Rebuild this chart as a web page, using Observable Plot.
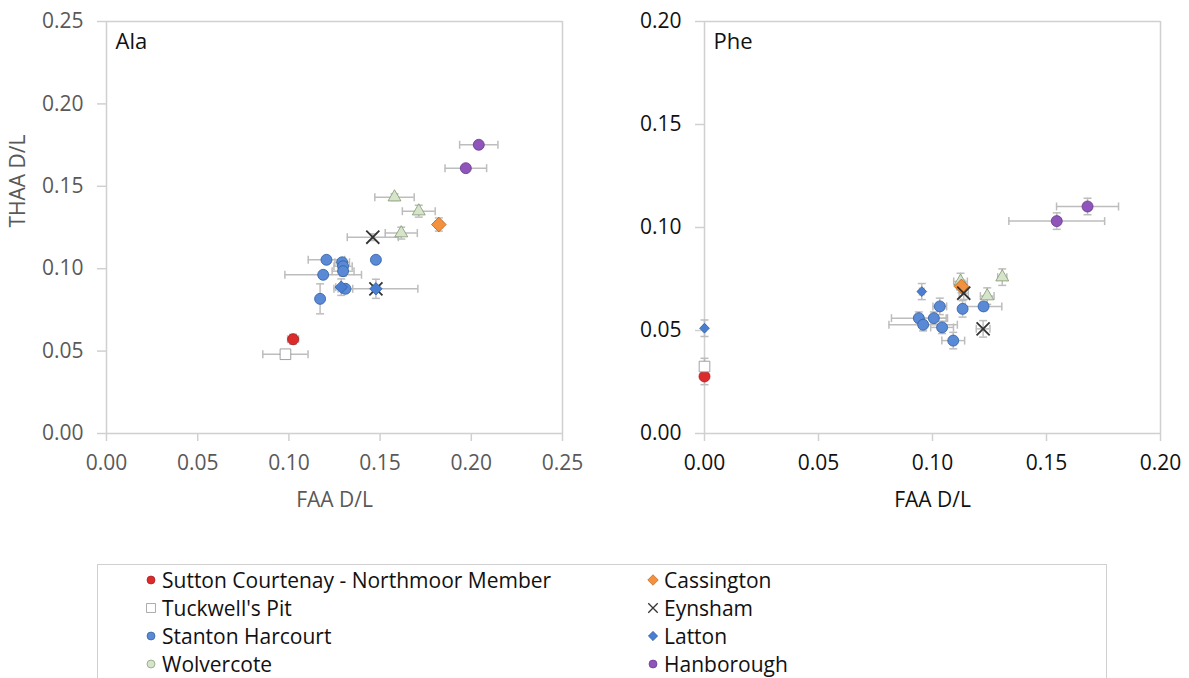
<!DOCTYPE html>
<html>
<head>
<meta charset="utf-8">
<script src="https://cdn.jsdelivr.net/npm/d3@7"></script>
<script src="https://cdn.jsdelivr.net/npm/@observablehq/plot@0.6"></script>
<style>
  body { margin: 0; background: #fff; font-family: "Open Sans", sans-serif; }
  #wrap { position: relative; width: 1189px; height: 678px; overflow: hidden; background: #fff; }
  #left { position: absolute; left: 0; top: 0; }
  #right { position: absolute; left: 600px; top: 0; }
  #legend { position: absolute; left: 97px; top: 564px; width: 1010px; height: 140px;
            border: 1.5px solid #d0d0d0; box-sizing: border-box; }
  .li { position: absolute; display: flex; align-items: center; font-size: 21px; color: #111;
        white-space: nowrap; height: 28px; }
  .li svg { margin-right: 4px; }
</style>
</head>
<body>
<div id="wrap">
  <div id="left"></div>
  <div id="right"></div>
  <div id="legend"></div>
</div>
<script>
// ---------- data ----------
const sites = ["Sutton Courtenay - Northmoor Member", "Tuckwell's Pit", "Stanton Harcourt", "Wolvercote",
               "Cassington", "Eynsham", "Latton", "Hanborough"];
const siteFill   = ["#dd2a2a", "#ffffff", "#5a8ad6", "#d6e4cc", "#f4913e", "#333333", "#4a7ed0", "#8f55bb"];
const siteStroke = ["#a51c1f", "#8a8a8a", "#2f5d9f", "#7f9870", "#b8621b", "#333333", "#2f5fa8", "#65388c"];
const siteSymbol = ["circle", "square", "circle", "triangle", "diamond2", "times", "diamond2", "circle"];

// Ala panel
const alaSite  = ["Hanborough","Hanborough","Wolvercote","Wolvercote","Cassington","Wolvercote","Eynsham",
                  "Stanton Harcourt","Stanton Harcourt","Stanton Harcourt","Stanton Harcourt","Stanton Harcourt",
                  "Stanton Harcourt","Latton","Stanton Harcourt","Latton","Eynsham","Stanton Harcourt",
                  "Sutton Courtenay - Northmoor Member","Tuckwell's Pit"];
const alaFAA   = [0.2041,0.1970,0.1579,0.1712,0.1822,0.1616,0.1460,0.1477,0.1206,0.1292,0.1297,0.1297,
                  0.1188,0.1287,0.1310,0.1477,0.1477,0.1171,0.1023,0.0981];
const alaTHAA  = [0.1752,0.1610,0.1434,0.1349,0.1268,0.1216,0.1191,0.1054,0.1054,0.1039,0.1015,0.0985,
                  0.0963,0.0888,0.0878,0.0878,0.0878,0.0817,0.0572,0.0481];
const alaFAAerr  = [0.0105,0.0114,0.0108,0.0090,0.0020,0.0088,0.0140,0.0010,0.0100,0.0040,0.0050,0.0060,
                    0.0210,0.0030,0.0040,0.0230,0.0020,0.0010,0.0030,0.0124];
const alaTHAAerr = [0.0020,0.0020,0.0020,0.0036,0.0040,0.0036,0.0020,0.0010,0.0020,0.0020,0.0030,0.0030,
                    0.0020,0.0050,0.0020,0.0058,0.0020,0.0091,0.0030,0.0010];

// Phe panel
const pheSite  = ["Hanborough","Hanborough","Wolvercote","Wolvercote","Cassington","Eynsham","Wolvercote",
                  "Latton","Stanton Harcourt","Stanton Harcourt","Stanton Harcourt","Stanton Harcourt",
                  "Stanton Harcourt","Stanton Harcourt","Stanton Harcourt","Eynsham","Stanton Harcourt",
                  "Latton","Tuckwell's Pit","Sutton Courtenay - Northmoor Member"];
const pheFAA   = [0.1680,0.1545,0.1306,0.1123,0.1127,0.1137,0.1240,0.0953,0.1032,0.1132,0.1224,0.0940,
                  0.1006,0.0959,0.1042,0.1222,0.1091,0.0000,0.0000,0.0000];
const pheTHAA  = [0.1102,0.1031,0.0759,0.0738,0.0714,0.0681,0.0667,0.0689,0.0617,0.0605,0.0617,0.0560,
                  0.0560,0.0528,0.0515,0.0508,0.0451,0.0511,0.0325,0.0277];
const pheFAAerr  = [0.0136,0.0210,0.0020,0.0030,0.0020,0.0020,0.0030,0.0010,0.0030,0.0010,0.0080,0.0120,
                    0.0060,0.0150,0.0050,0.0030,0.0050,0.0005,0.0005,0.0005];
const pheTHAAerr = [0.0040,0.0040,0.0040,0.0040,0.0030,0.0030,0.0040,0.0039,0.0040,0.0040,0.0020,0.0030,
                    0.0030,0.0030,0.0030,0.0040,0.0040,0.0040,0.0040,0.0040];

const alaTicks = [0, 0.05, 0.10, 0.15, 0.20, 0.25];
const pheTicks = [0, 0.05, 0.10, 0.15, 0.20];
const xTitle = "FAA D/L";
const yTitle = "THAA D/L";

// ---------- helpers ----------
const fmt = d3.format(".2f");
const errColor = "#bdbdbd";
const axisColor = "#d0d0d0";
const vcap = { draw(ctx, size) { const h = Math.sqrt(size / Math.PI); ctx.moveTo(0, -h); ctx.lineTo(0, h); } };
const hcap = { draw(ctx, size) { const h = Math.sqrt(size / Math.PI); ctx.moveTo(-h, 0); ctx.lineTo(h, 0); } };

function table(site, x, y, xe, ye) {
  return site.map((s, i) => ({ site: s, x: x[i], y: y[i], xe: xe[i], ye: ye[i] }));
}

function symbolR(site, sym, small) {
  if (sym === "circle") return 5.5;
  if (sym === "square") return 6.0;
  if (sym === "triangle") return 4.8;
  if (sym === "times") return 6.0;
  if (site === "Latton") return small ? 4.4 : 5.6;
  if (sym === "diamond2") return 6.6;
  return 5;
}

function panel(data, ticks, name, textColor, opts) {
  const dom = [ticks[0], ticks[ticks.length - 1]];
  const marks = [
    Plot.ruleY([dom[1]], { stroke: axisColor, strokeWidth: 1.5 }),
    Plot.ruleX([dom[1]], { stroke: axisColor, strokeWidth: 1.5 }),
    Plot.axisX({ ticks, tickFormat: fmt, tickSize: 8, tickPadding: 14, fontSize: 21, fill: textColor,
                 stroke: axisColor, strokeWidth: 1.5, label: null }),
    Plot.axisY({ ticks, tickFormat: fmt, tickSize: 9, tickPadding: 14, fontSize: 21, fill: textColor,
                 stroke: axisColor, strokeWidth: 1.5, label: null }),
    Plot.ruleX([dom[0]], { stroke: axisColor, strokeWidth: 1.5 }),
    Plot.ruleY([dom[0]], { stroke: axisColor, strokeWidth: 1.5 }),
    Plot.text([xTitle], { frameAnchor: "bottom", dy: 67, fontSize: 21, fill: textColor, lineAnchor: "middle" }),
    Plot.text([name], { frameAnchor: "top-left", dx: 9, dy: 12, fontSize: 22, fill: "#111", lineAnchor: "top", textAnchor: "start" }),
    // error bars
    Plot.ruleY(data, { y: "y", x1: d => d.x - d.xe, x2: d => d.x + d.xe, stroke: errColor, strokeWidth: 1.5 }),
    Plot.ruleX(data, { x: "x", y1: d => d.y - d.ye, y2: d => d.y + d.ye, stroke: errColor, strokeWidth: 1.5 }),
    Plot.dot(data, { x: d => d.x - d.xe, y: "y", symbol: vcap, r: 4, stroke: errColor, strokeWidth: 1.5, fill: "none" }),
    Plot.dot(data, { x: d => d.x + d.xe, y: "y", symbol: vcap, r: 4, stroke: errColor, strokeWidth: 1.5, fill: "none" }),
    Plot.dot(data, { x: "x", y: d => d.y - d.ye, symbol: hcap, r: 4, stroke: errColor, strokeWidth: 1.5, fill: "none" }),
    Plot.dot(data, { x: "x", y: d => d.y + d.ye, symbol: hcap, r: 4, stroke: errColor, strokeWidth: 1.5, fill: "none" })
  ];
  if (opts.yTitle) {
    marks.push(Plot.text([yTitle], { frameAnchor: "left", dx: -88, rotate: -90, fontSize: 21, fill: textColor, lineAnchor: "middle" }));
  }
  sites.forEach((s, i) => {
    const sub = data.filter(d => d.site === s);
    const sym = siteSymbol[i];
    marks.push(Plot.dot(sub, {
      x: "x", y: "y", symbol: sym, r: symbolR(s, sym, opts.smallDiamond),
      fill: sym === "times" ? "none" : siteFill[i],
      stroke: siteStroke[i], strokeWidth: sym === "times" ? 1.8 : 0.8
    }));
  });
  return Plot.plot({
    width: opts.width, height: 520,
    marginLeft: opts.ml, marginRight: opts.mr, marginTop: 21, marginBottom: 87,
    style: { fontFamily: "'Open Sans', sans-serif", background: "transparent", overflow: "visible" },
    x: { domain: dom, axis: null },
    y: { domain: dom, axis: null },
    marks
  });
}

document.getElementById("left").append(
  panel(table(alaSite, alaFAA, alaTHAA, alaFAAerr, alaTHAAerr), alaTicks, "Ala", "#595959",
        { width: 600, ml: 106, mr: 38, yTitle: true, smallDiamond: false })
);
document.getElementById("right").append(
  panel(table(pheSite, pheFAA, pheTHAA, pheFAAerr, pheTHAAerr), pheTicks, "Phe", "#111",
        { width: 589, ml: 104, mr: 29, yTitle: false, smallDiamond: true })
);

// ---------- legend ----------
const legend = document.getElementById("legend");
const rowsY = [1, 29, 57, 85];
const symMap = { circle: d3.symbolCircle, square: d3.symbolSquare, triangle: d3.symbolTriangle,
                 diamond2: d3.symbolDiamond2, times: d3.symbolTimes };
sites.forEach((s, i) => {
  const col = Math.floor(i / 4), row = i % 4;
  const div = document.createElement("div");
  div.className = "li";
  div.style.left = (col === 0 ? 46 : 548) + "px";
  div.style.top = rowsY[row] + "px";
  const sym = siteSymbol[i];
  const size = sym === "circle" ? 50 : sym === "square" ? 80 : sym === "times" ? 60 :
               sym === "triangle" ? 50 : (s === "Latton" ? 55 : 70);
  const svg = d3.create("svg").attr("width", 14).attr("height", 14);
  svg.append("path").attr("transform", "translate(7,7)")
     .attr("d", d3.symbol(sym === "triangle" ? d3.symbolCircle : symMap[sym], size)())
     .attr("fill", sym === "times" ? "none" : siteFill[i])
     .attr("stroke", siteStroke[i]).attr("stroke-width", sym === "times" ? 1.3 : 0.7);
  div.append(svg.node());
  const span = document.createElement("span");
  span.textContent = s;
  div.append(span);
  legend.append(div);
});
</script>
</body>
</html>
